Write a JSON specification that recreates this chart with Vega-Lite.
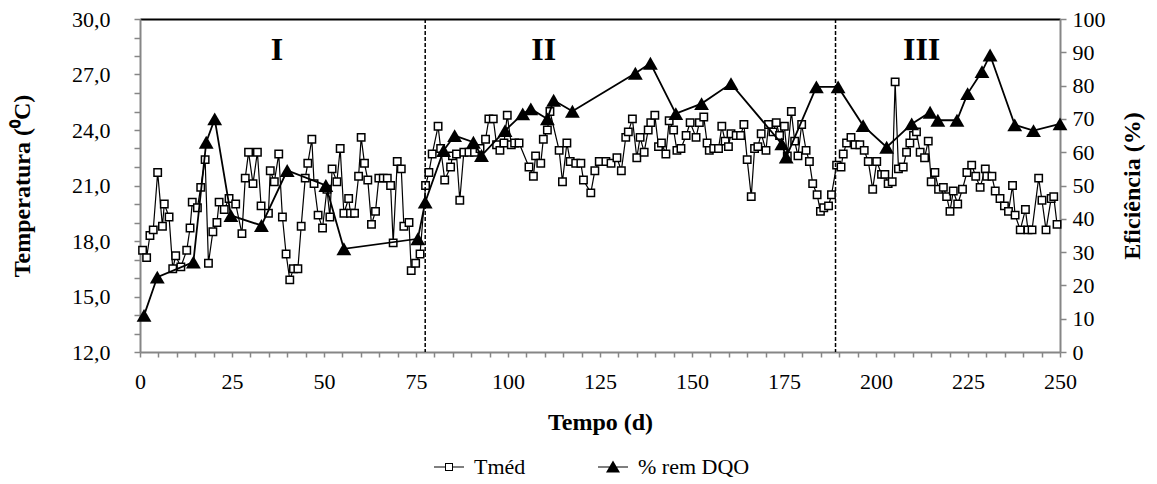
{
  "$schema": "https://vega.github.io/schema/vega-lite/v6.json",
  "width": 920,
  "height": 333,
  "autosize": {"type": "none"},
  "padding": {"left": 140, "top": 19, "right": 97, "bottom": 132},
  "config": {
    "font": "Liberation Serif",
    "view": {"stroke": null},
    "axis": {
      "labelFont": "Liberation Serif",
      "titleFont": "Liberation Serif",
      "labelFontSize": 22,
      "titleFontSize": 24,
      "titleFontWeight": "bold",
      "labelColor": "black",
      "titleColor": "black",
      "domainColor": "#868686",
      "tickColor": "#868686",
      "domainWidth": 2,
      "tickWidth": 1.5,
      "grid": false,
      "labelOverlap": false,
      "labelFlush": false
    },
    "legend": {"labelFont": "Liberation Serif", "labelFontSize": 22, "labelColor": "black"}
  },
  "datasets": {
    "temp": [
      {"d":0.7,"t":17.5},{"d":1.8,"t":17.1},{"d":2.7,"t":18.3},{"d":3.6,"t":18.6},{"d":4.8,"t":21.7},{"d":6.1,"t":18.8},{"d":6.6,"t":20.0},{"d":7.9,"t":19.3},{"d":8.9,"t":16.5},{"d":9.7,"t":17.2},
      {"d":11.1,"t":16.6},{"d":12.7,"t":17.5},{"d":13.6,"t":18.7},{"d":14.2,"t":20.1},{"d":15.6,"t":19.8},{"d":16.5,"t":20.9},{"d":17.7,"t":22.4},{"d":18.6,"t":16.8},{"d":19.8,"t":18.5},{"d":20.9,"t":19.0},
      {"d":21.5,"t":20.1},{"d":22.9,"t":19.7},{"d":24.2,"t":20.3},{"d":26.0,"t":20.0},{"d":27.7,"t":18.4},{"d":28.6,"t":21.4},{"d":29.5,"t":22.8},{"d":30.7,"t":21.1},{"d":31.9,"t":22.8},{"d":32.9,"t":19.9},
      {"d":34.9,"t":19.5},{"d":35.4,"t":21.8},{"d":36.5,"t":21.2},{"d":37.7,"t":22.7},{"d":38.7,"t":19.3},{"d":39.7,"t":17.3},{"d":40.7,"t":15.9},{"d":41.7,"t":16.5},{"d":42.9,"t":16.5},{"d":43.8,"t":18.8},
      {"d":44.9,"t":21.4},{"d":45.6,"t":22.2},{"d":46.7,"t":23.5},{"d":47.3,"t":21.1},{"d":48.4,"t":19.4},{"d":49.6,"t":18.7},{"d":50.8,"t":20.8},{"d":51.6,"t":19.3},{"d":52.2,"t":21.9},{"d":53.5,"t":21.2},
      {"d":54.4,"t":23.0},{"d":55.4,"t":19.5},{"d":56.7,"t":20.3},{"d":57.2,"t":19.5},{"d":58.3,"t":19.5},{"d":59.4,"t":21.5},{"d":60.1,"t":23.6},{"d":61.0,"t":22.2},{"d":61.9,"t":21.3},{"d":62.9,"t":18.9},
      {"d":64.0,"t":19.6},{"d":64.9,"t":21.4},{"d":66.1,"t":21.4},{"d":67.2,"t":21.4},{"d":68.1,"t":21.0},{"d":68.8,"t":17.9},{"d":69.9,"t":22.3},{"d":71.0,"t":21.9},{"d":71.7,"t":18.8},{"d":73.1,"t":19.0},
      {"d":73.7,"t":16.4},{"d":74.9,"t":16.8},{"d":76.1,"t":17.3},{"d":77.6,"t":21.0},{"d":78.5,"t":21.7},{"d":79.4,"t":22.7},{"d":81.0,"t":24.2},{"d":81.7,"t":23.0},{"d":82.8,"t":21.3},{"d":84.4,"t":22.0},
      {"d":84.9,"t":22.6},{"d":86.0,"t":22.7},{"d":86.9,"t":20.2},{"d":88.0,"t":22.8},{"d":89.4,"t":22.8},{"d":90.9,"t":22.8},{"d":92.4,"t":23.0},{"d":93.9,"t":23.5},{"d":94.8,"t":24.6},{"d":96.0,"t":24.6},
      {"d":96.9,"t":23.2},{"d":97.8,"t":22.9},{"d":98.9,"t":23.3},{"d":99.8,"t":24.8},{"d":100.9,"t":23.2},{"d":101.8,"t":23.3},{"d":103.0,"t":23.3},{"d":105.7,"t":22.0},{"d":106.9,"t":21.5},{"d":107.5,"t":22.6},
      {"d":108.9,"t":22.2},{"d":109.6,"t":23.5},{"d":110.7,"t":24.0},{"d":111.4,"t":25.0},{"d":113.9,"t":22.9},{"d":114.8,"t":21.2},{"d":116.0,"t":23.3},{"d":116.9,"t":22.3},{"d":118.4,"t":22.2},{"d":119.8,"t":22.2},
      {"d":120.5,"t":21.3},{"d":122.5,"t":20.6},{"d":123.6,"t":21.8},{"d":124.8,"t":22.3},{"d":126.6,"t":22.3},{"d":128.0,"t":22.2},{"d":129.6,"t":22.5},{"d":130.8,"t":21.8},{"d":132.0,"t":23.6},{"d":132.7,"t":23.9},
      {"d":133.8,"t":24.6},{"d":135.0,"t":22.5},{"d":135.9,"t":23.6},{"d":137.0,"t":22.8},{"d":138.1,"t":24.0},{"d":138.8,"t":24.4},{"d":139.9,"t":24.8},{"d":140.9,"t":23.1},{"d":141.7,"t":23.3},{"d":142.9,"t":22.7},
      {"d":143.8,"t":24.5},{"d":145.0,"t":24.0},{"d":145.9,"t":22.9},{"d":147.0,"t":23.0},{"d":148.4,"t":23.7},{"d":149.5,"t":24.4},{"d":151.1,"t":23.6},{"d":152.0,"t":24.4},{"d":153.2,"t":24.7},{"d":154.1,"t":23.3},
      {"d":154.7,"t":22.9},{"d":155.9,"t":23.0},{"d":157.2,"t":23.0},{"d":158.1,"t":24.2},{"d":159.0,"t":23.4},{"d":159.9,"t":23.1},{"d":160.6,"t":23.8},{"d":162.0,"t":23.7},{"d":163.2,"t":23.7},{"d":164.1,"t":24.3},
      {"d":165.0,"t":22.4},{"d":166.1,"t":20.4},{"d":167.0,"t":23.0},{"d":167.9,"t":23.1},{"d":168.8,"t":23.8},{"d":170.1,"t":22.9},{"d":170.8,"t":24.3},{"d":172.0,"t":23.9},{"d":172.9,"t":24.4},{"d":173.8,"t":23.7},
      {"d":175.1,"t":24.2},{"d":175.9,"t":22.6},{"d":177.0,"t":25.0},{"d":177.9,"t":23.4},{"d":178.8,"t":22.6},{"d":179.8,"t":24.3},{"d":181.0,"t":22.9},{"d":181.9,"t":22.3},{"d":182.8,"t":21.1},{"d":184.0,"t":20.5},
      {"d":184.9,"t":19.6},{"d":185.8,"t":19.8},{"d":187.1,"t":19.9},{"d":187.9,"t":20.5},{"d":189.3,"t":22.1},{"d":190.5,"t":22.0},{"d":191.1,"t":22.7},{"d":192.0,"t":23.3},{"d":193.2,"t":23.6},{"d":194.3,"t":23.2},
      {"d":195.6,"t":23.2},{"d":196.8,"t":22.9},{"d":197.9,"t":22.3},{"d":199.1,"t":20.8},{"d":200.2,"t":22.3},{"d":201.5,"t":21.6},{"d":202.4,"t":21.6},{"d":203.3,"t":21.1},{"d":204.4,"t":21.2},{"d":205.2,"t":26.6},
      {"d":206.1,"t":21.9},{"d":207.4,"t":22.0},{"d":208.3,"t":22.8},{"d":209.2,"t":23.3},{"d":210.2,"t":23.7},{"d":211.0,"t":23.9},{"d":212.0,"t":22.8},{"d":213.2,"t":22.5},{"d":214.2,"t":23.4},{"d":215.0,"t":21.2},
      {"d":216.0,"t":21.7},{"d":217.0,"t":20.8},{"d":218.3,"t":20.9},{"d":219.2,"t":20.4},{"d":220.1,"t":19.6},{"d":221.0,"t":20.7},{"d":222.2,"t":20.0},{"d":223.5,"t":20.8},{"d":224.7,"t":21.7},{"d":226.0,"t":22.1},
      {"d":227.1,"t":21.5},{"d":228.3,"t":20.9},{"d":229.7,"t":21.9},{"d":230.1,"t":21.5},{"d":231.5,"t":21.5},{"d":232.4,"t":20.7},{"d":233.7,"t":20.3},{"d":234.9,"t":19.9},{"d":236.0,"t":19.6},{"d":237.1,"t":21.0},
      {"d":237.8,"t":19.4},{"d":239.2,"t":18.6},{"d":240.6,"t":19.7},{"d":241.3,"t":18.6},{"d":242.4,"t":18.6},{"d":244.2,"t":21.4},{"d":245.1,"t":20.2},{"d":246.2,"t":18.6},{"d":247.6,"t":20.3},{"d":248.3,"t":20.4},
      {"d":249.2,"t":18.9}
    ],
    "dqo": [
      {"d":1.1,"e":11},{"d":4.7,"e":22.5},{"d":14.5,"e":27},{"d":18.0,"e":63},{"d":20.3,"e":70},{"d":24.7,"e":41},{"d":33.0,"e":38},{"d":40.0,"e":54.5},{"d":50.5,"e":50},{"d":55.4,"e":31},
      {"d":75.5,"e":34},{"d":77.5,"e":45},{"d":82.5,"e":60.5},{"d":85.5,"e":65},{"d":90.6,"e":63},{"d":92.8,"e":59},{"d":99.2,"e":66.5},{"d":104.0,"e":71.5},{"d":106.2,"e":73},{"d":110.7,"e":70},
      {"d":112.4,"e":75.6},{"d":117.5,"e":72.3},{"d":134.6,"e":83.7},{"d":138.7,"e":86.7},{"d":145.6,"e":71.6},{"d":152.6,"e":74.6},{"d":160.6,"e":80.6},{"d":174.4,"e":62.5},{"d":175.6,"e":58.5},{"d":183.8,"e":79.6},
      {"d":189.7,"e":79.6},{"d":196.5,"e":68},{"d":202.9,"e":61.5},{"d":209.7,"e":68.5},{"d":214.7,"e":72},{"d":216.8,"e":69.6},{"d":222.0,"e":69.6},{"d":224.9,"e":77.6},{"d":228.8,"e":84.2},{"d":231.0,"e":89.2},
      {"d":237.7,"e":68.2},{"d":242.8,"e":66.5},{"d":250.0,"e":68.5}
    ],
    "series": [{"serie": "Tméd"}, {"serie": "% rem DQO"}]
  },
  "layer": [
    {
      "encoding": {
        "x": {"field": "d", "type": "quantitative", "title": "Tempo (d)", "scale": {"domain": [0, 250], "nice": false},
          "axis": {"orient": "bottom", "values": [0,5,10,15,20,25,30,35,40,45,50,55,60,65,70,75,80,85,90,95,100,105,110,115,120,125,130,135,140,145,150,155,160,165,170,175,180,185,190,195,200,205,210,215,220,225,230,235,240,245,250], "labelExpr": "datum.value % 25 === 0 ? datum.label : ''", "tickSize": 5, "labelPadding": 14, "titlePadding": 18, "labelOverlap": false}},
        "y": {"field": "t", "type": "quantitative", "title": "Temperatura (⁰C)", "scale": {"domain": [12, 30], "nice": false, "zero": false},
          "axis": {"orient": "left", "values": [12,13,14,15,16,17,18,19,20,21,22,23,24,25,26,27,28,29,30], "labelExpr": "datum.value % 3 === 0 ? replace(format(datum.value, '.1f'), '.', ',') : ''", "tickSize": 6, "labelPadding": 24, "titlePadding": 37, "labelOverlap": false}}
      },
      "layer": [
        {
          "data": {"values": [{"d": 37.2, "t": 28.3, "lab": "I"}, {"d": 109.7, "t": 28.3, "lab": "II"}, {"d": 212.4, "t": 28.3, "lab": "III"}]},
          "mark": {"type": "text", "font": "Liberation Serif", "fontSize": 32, "fontWeight": "bold", "color": "black", "baseline": "middle", "align": "center"},
          "encoding": {"text": {"field": "lab"}}
        },
        {
          "data": {"name": "temp"},
          "mark": {"type": "line", "color": "black", "strokeWidth": 1.2}
        },
        {
          "data": {"name": "temp"},
          "mark": {"type": "point", "shape": "square", "filled": true, "fill": "white", "stroke": "black", "strokeWidth": 1.5, "size": 55, "opacity": 1}
        }
      ]
    },
    {
      "data": {"values": [{"d": 77.5}, {"d": 189}]},
      "mark": {"type": "rule", "color": "black", "strokeWidth": 1.5, "strokeDash": [4, 2]},
      "encoding": {
        "x": {"field": "d", "type": "quantitative", "title": null, "scale": {"domain": [0, 250], "nice": false},
          "axis": {"orient": "top", "labels": false, "ticks": false, "title": null, "domainColor": "black", "domainWidth": 2, "values": [0, 250]}}
      }
    },
    {
      "encoding": {
        "x": {"field": "d", "type": "quantitative", "scale": {"domain": [0, 250], "nice": false}, "axis": null},
        "y": {"field": "e", "type": "quantitative", "title": "Eficiência (%)", "scale": {"domain": [0, 100], "nice": false},
          "axis": {"orient": "right", "values": [0,10,20,30,40,50,60,70,80,90,100], "tickSize": 6, "labelPadding": 6, "titlePadding": 39, "titleAngle": -90, "labelOverlap": false}}
      },
      "layer": [
        {
          "data": {"name": "dqo"},
          "mark": {"type": "line", "color": "black", "strokeWidth": 1.8}
        },
        {
          "data": {"name": "dqo"},
          "mark": {"type": "point", "shape": "triangle-up", "filled": true, "color": "black", "size": 220, "opacity": 1}
        }
      ]
    },
    {
      "data": {"name": "series"},
      "mark": {"type": "point", "filled": true, "color": "black", "opacity": 0},
      "encoding": {
        "shape": {"field": "serie", "type": "nominal",
          "scale": {"domain": ["Tméd", "% rem DQO"], "range": ["M-3,-0.12H-0.8V0.12H-3ZM0.8,-0.12H3V0.12H0.8ZM-0.8,-0.8H0.8V0.8H-0.8ZM-0.6,-0.6V0.6H0.6V-0.6Z", "M-3,-0.12H3V0.12H-3ZM0,-1.3L1.4,1.1H-1.4Z"]},
          "legend": {"title": null, "orient": "none", "legendX": 298, "legendY": 437, "direction": "horizontal", "symbolSize": 100, "symbolOpacity": 1, "symbolFillColor": "black", "symbolStrokeColor": "black", "symbolStrokeWidth": 1, "labelFont": "Liberation Serif", "labelFontSize": 22, "labelColor": "black", "labelOffset": 14, "columnPadding": 70}}
      }
    }
  ],
  "resolve": {"scale": {"y": "independent"}, "axis": {"x": "independent"}}
}
